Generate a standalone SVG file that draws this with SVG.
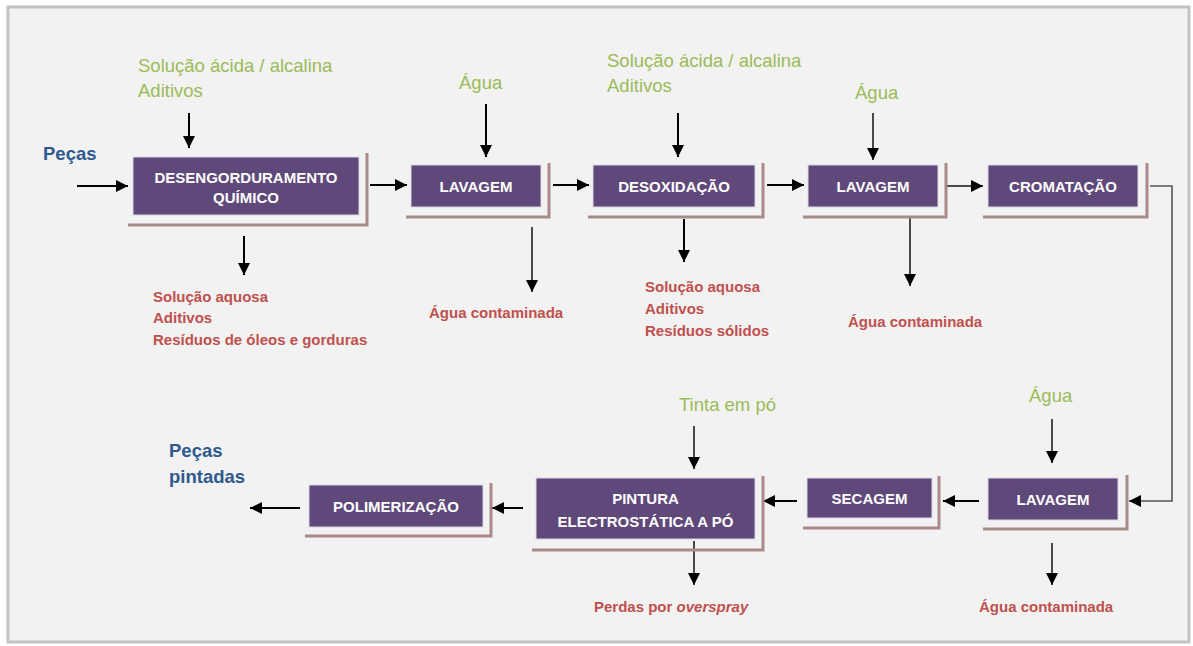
<svg xmlns="http://www.w3.org/2000/svg" width="1193" height="646" viewBox="0 0 1193 646">
<defs>
<style>
.box{fill:#5f497a;stroke:#ddd6e6;stroke-width:1}
.sh{fill:none;stroke:#a98a8a;stroke-width:3}
.lbl{font-family:"Liberation Sans",Arial,sans-serif;font-weight:bold;font-size:15px;fill:#ffffff;text-anchor:middle}
.in{font-family:"Liberation Sans",Arial,sans-serif;font-size:18.5px;fill:#9bbb59}
.out{font-family:"Liberation Sans",Arial,sans-serif;font-weight:bold;font-size:15px;fill:#c0504d}
.blue{font-family:"Liberation Sans",Arial,sans-serif;font-weight:bold;font-size:18.5px;fill:#2f5a8f}
.c{fill:none;stroke:#000;stroke-width:2;marker-end:url(#ah)}
.t{fill:none;stroke:#111;stroke-width:1.5;marker-end:url(#ah)}
.g{fill:none;stroke:#555;stroke-width:1.6;marker-end:url(#ah)}
</style>
<marker id="ah" viewBox="0 0 10 10" refX="10" refY="5" markerUnits="userSpaceOnUse" markerWidth="12" markerHeight="12" orient="auto">
<path d="M0,0 L10,5 L0,10 z" fill="#000"/>
</marker>
</defs>
<rect x="8" y="7" width="1181" height="635" fill="#f2f2f2" stroke="#c3c3c3" stroke-width="3"/>

<g id="connectors">
<path class="c" d="M77,186 H128"/>
<path class="c" d="M189,113 V148"/>
<path class="c" d="M370,185 H407"/>
<path class="c" d="M486,104 V157"/>
<path class="c" d="M553,185 H589"/>
<path class="c" d="M678,113 V157"/>
<path class="c" d="M767,185 H804"/>
<path class="t" d="M873,113 V160"/>
<path class="t" d="M947,186 H983"/>
<path class="g" d="M1150,186 H1172 V501 H1129"/>
<path class="c" d="M244,236 V275"/>
<path class="t" d="M532,227 V292"/>
<path class="c" d="M684,219 V262"/>
<path class="t" d="M910,218 V286"/>
<path class="t" d="M1052,419 V463"/>
<path class="t" d="M1052,543 V585"/>
<path class="c" d="M979,501 H943"/>
<path class="c" d="M797,501 H763"/>
<path class="t" d="M694,426 V469"/>
<path class="t" d="M694,541 V585"/>
<path class="c" d="M523,508 H492"/>
<path class="c" d="M300,508 H250"/>
</g>

<g id="n-desengorduramento">
<polyline class="sh" points="128,225 367,225 367,153"/>
<rect class="box" x="133" y="157" width="226" height="58"/>
<text class="lbl" x="246" y="183">DESENGORDURAMENTO</text>
<text class="lbl" x="246" y="203">QUÍMICO</text>
</g>
<g id="n-lavagem1">
<polyline class="sh" points="406,217 549,217 549,163"/>
<rect class="box" x="411" y="165" width="130" height="42"/>
<text class="lbl" x="476" y="191.5">LAVAGEM</text>
</g>
<g id="n-desoxidacao">
<polyline class="sh" points="588,217 763,217 763,163"/>
<rect class="box" x="593" y="165" width="162" height="42"/>
<text class="lbl" x="674" y="191.5">DESOXIDAÇÃO</text>
</g>
<g id="n-lavagem2">
<polyline class="sh" points="803,217 946,217 946,163"/>
<rect class="box" x="808" y="165" width="130" height="42"/>
<text class="lbl" x="873" y="191.5">LAVAGEM</text>
</g>
<g id="n-cromatacao">
<polyline class="sh" points="983,217 1147,217 1147,163"/>
<rect class="box" x="988" y="165" width="150" height="42"/>
<text class="lbl" x="1063" y="191.5">CROMATAÇÃO</text>
</g>
<g id="n-lavagem3">
<polyline class="sh" points="983,529 1127,529 1127,475"/>
<rect class="box" x="988" y="478" width="130" height="42"/>
<text class="lbl" x="1053" y="504.5">LAVAGEM</text>
</g>
<g id="n-secagem">
<polyline class="sh" points="803,528 939,528 939,476"/>
<rect class="box" x="807" y="478" width="125" height="40"/>
<text class="lbl" x="869.5" y="503.5">SECAGEM</text>
</g>
<g id="n-pintura">
<polyline class="sh" points="532,550 763,550 763,476"/>
<rect class="box" x="536" y="478" width="219" height="61"/>
<text class="lbl" x="645.5" y="503.5">PINTURA</text>
<text class="lbl" x="645.5" y="526.5">ELECTROSTÁTICA A PÓ</text>
</g>
<g id="n-polimerizacao">
<polyline class="sh" points="305,536 491,536 491,483"/>
<rect class="box" x="309" y="485" width="174" height="42"/>
<text class="lbl" x="396" y="511.5">POLIMERIZAÇÃO</text>
</g>

<g id="labels">
<text class="blue" x="43" y="160">Peças</text>
<text class="blue" x="169" y="457">Peças</text>
<text class="blue" x="169" y="483">pintadas</text>

<text class="in" x="138" y="72">Solução ácida / alcalina</text>
<text class="in" x="138" y="97">Aditivos</text>
<text class="in" x="459" y="89">Água</text>
<text class="in" x="607" y="67">Solução ácida / alcalina</text>
<text class="in" x="607" y="92">Aditivos</text>
<text class="in" x="855" y="99">Água</text>
<text class="in" x="1029" y="402">Água</text>
<text class="in" x="679" y="411">Tinta em pó</text>

<text class="out" x="153" y="302">Solução aquosa</text>
<text class="out" x="153" y="323">Aditivos</text>
<text class="out" x="153" y="345">Resíduos de óleos e gorduras</text>
<text class="out" x="429" y="318">Água contaminada</text>
<text class="out" x="645" y="292">Solução aquosa</text>
<text class="out" x="645" y="314">Aditivos</text>
<text class="out" x="645" y="336">Resíduos sólidos</text>
<text class="out" x="848" y="327">Água contaminada</text>
<text class="out" x="594" y="612">Perdas por <tspan font-style="italic">overspray</tspan></text>
<text class="out" x="979" y="612">Água contaminada</text>
</g>
</svg>
